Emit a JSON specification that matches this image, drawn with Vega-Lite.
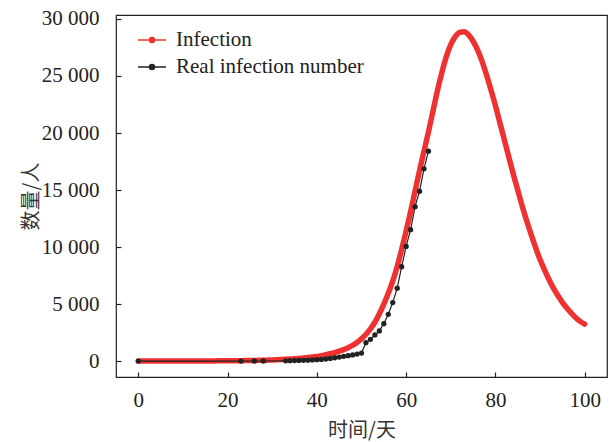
{
  "$schema": "https://vega.github.io/schema/vega-lite/v6.json",
  "width": 491,
  "height": 362,
  "autosize": "none",
  "padding": {"left": 116, "top": 15, "right": 4, "bottom": 65},
  "background": "white",
  "config": {
    "view": {"stroke": "#222222", "strokeWidth": 1.2},
    "font": "Liberation Serif",
    "style": {"guide-label": {"font": "Liberation Serif"}},
    "axis": {
      "grid": false,
      "domain": false,
      "tickSize": -5,
      "tickColor": "#222222",
      "tickWidth": 1.2,
      "labelFont": "Liberation Serif",
      "labelFontSize": 21,
      "labelColor": "#222222",
      "titleFont": "Noto Sans CJK SC",
      "titleFontSize": 20,
      "titleFontWeight": "normal",
      "titleColor": "#333333"
    }
  },
  "data": {
    "values": [
      {"day": 0, "value": 1, "series": "Infection"},
      {"day": 1, "value": 1, "series": "Infection"},
      {"day": 2, "value": 1, "series": "Infection"},
      {"day": 3, "value": 1, "series": "Infection"},
      {"day": 4, "value": 2, "series": "Infection"},
      {"day": 5, "value": 2, "series": "Infection"},
      {"day": 6, "value": 2, "series": "Infection"},
      {"day": 7, "value": 3, "series": "Infection"},
      {"day": 8, "value": 3, "series": "Infection"},
      {"day": 9, "value": 4, "series": "Infection"},
      {"day": 10, "value": 4, "series": "Infection"},
      {"day": 11, "value": 5, "series": "Infection"},
      {"day": 12, "value": 6, "series": "Infection"},
      {"day": 13, "value": 7, "series": "Infection"},
      {"day": 14, "value": 8, "series": "Infection"},
      {"day": 15, "value": 10, "series": "Infection"},
      {"day": 16, "value": 11, "series": "Infection"},
      {"day": 17, "value": 13, "series": "Infection"},
      {"day": 18, "value": 15, "series": "Infection"},
      {"day": 19, "value": 18, "series": "Infection"},
      {"day": 20, "value": 21, "series": "Infection"},
      {"day": 21, "value": 24, "series": "Infection"},
      {"day": 22, "value": 28, "series": "Infection"},
      {"day": 23, "value": 33, "series": "Infection"},
      {"day": 24, "value": 38, "series": "Infection"},
      {"day": 25, "value": 45, "series": "Infection"},
      {"day": 26, "value": 52, "series": "Infection"},
      {"day": 27, "value": 60, "series": "Infection"},
      {"day": 28, "value": 70, "series": "Infection"},
      {"day": 29, "value": 82, "series": "Infection"},
      {"day": 30, "value": 95, "series": "Infection"},
      {"day": 31, "value": 110, "series": "Infection"},
      {"day": 32, "value": 128, "series": "Infection"},
      {"day": 33, "value": 148, "series": "Infection"},
      {"day": 34, "value": 172, "series": "Infection"},
      {"day": 35, "value": 200, "series": "Infection"},
      {"day": 36, "value": 230, "series": "Infection"},
      {"day": 37, "value": 265, "series": "Infection"},
      {"day": 38, "value": 305, "series": "Infection"},
      {"day": 39, "value": 355, "series": "Infection"},
      {"day": 40, "value": 410, "series": "Infection"},
      {"day": 41, "value": 475, "series": "Infection"},
      {"day": 42, "value": 550, "series": "Infection"},
      {"day": 43, "value": 640, "series": "Infection"},
      {"day": 44, "value": 740, "series": "Infection"},
      {"day": 45, "value": 860, "series": "Infection"},
      {"day": 46, "value": 1000, "series": "Infection"},
      {"day": 47, "value": 1170, "series": "Infection"},
      {"day": 48, "value": 1370, "series": "Infection"},
      {"day": 49, "value": 1620, "series": "Infection"},
      {"day": 50, "value": 1950, "series": "Infection"},
      {"day": 51, "value": 2350, "series": "Infection"},
      {"day": 52, "value": 2830, "series": "Infection"},
      {"day": 53, "value": 3400, "series": "Infection"},
      {"day": 54, "value": 4150, "series": "Infection"},
      {"day": 55, "value": 5000, "series": "Infection"},
      {"day": 56, "value": 5950, "series": "Infection"},
      {"day": 57, "value": 7000, "series": "Infection"},
      {"day": 58, "value": 8300, "series": "Infection"},
      {"day": 59, "value": 9800, "series": "Infection"},
      {"day": 60, "value": 11400, "series": "Infection"},
      {"day": 61, "value": 13100, "series": "Infection"},
      {"day": 62, "value": 14900, "series": "Infection"},
      {"day": 63, "value": 16700, "series": "Infection"},
      {"day": 64, "value": 18400, "series": "Infection"},
      {"day": 65, "value": 20100, "series": "Infection"},
      {"day": 66, "value": 21900, "series": "Infection"},
      {"day": 67, "value": 23700, "series": "Infection"},
      {"day": 68, "value": 25300, "series": "Infection"},
      {"day": 69, "value": 26700, "series": "Infection"},
      {"day": 70, "value": 27750, "series": "Infection"},
      {"day": 71, "value": 28450, "series": "Infection"},
      {"day": 72, "value": 28830, "series": "Infection"},
      {"day": 73, "value": 28880, "series": "Infection"},
      {"day": 74, "value": 28600, "series": "Infection"},
      {"day": 75, "value": 28050, "series": "Infection"},
      {"day": 76, "value": 27300, "series": "Infection"},
      {"day": 77, "value": 26300, "series": "Infection"},
      {"day": 78, "value": 25100, "series": "Infection"},
      {"day": 79, "value": 23800, "series": "Infection"},
      {"day": 80, "value": 22400, "series": "Infection"},
      {"day": 81, "value": 20900, "series": "Infection"},
      {"day": 82, "value": 19400, "series": "Infection"},
      {"day": 83, "value": 17900, "series": "Infection"},
      {"day": 84, "value": 16400, "series": "Infection"},
      {"day": 85, "value": 15000, "series": "Infection"},
      {"day": 86, "value": 13600, "series": "Infection"},
      {"day": 87, "value": 12300, "series": "Infection"},
      {"day": 88, "value": 11100, "series": "Infection"},
      {"day": 89, "value": 9950, "series": "Infection"},
      {"day": 90, "value": 8900, "series": "Infection"},
      {"day": 91, "value": 8000, "series": "Infection"},
      {"day": 92, "value": 7150, "series": "Infection"},
      {"day": 93, "value": 6400, "series": "Infection"},
      {"day": 94, "value": 5750, "series": "Infection"},
      {"day": 95, "value": 5150, "series": "Infection"},
      {"day": 96, "value": 4650, "series": "Infection"},
      {"day": 97, "value": 4200, "series": "Infection"},
      {"day": 98, "value": 3800, "series": "Infection"},
      {"day": 99, "value": 3480, "series": "Infection"},
      {"day": 100, "value": 3230, "series": "Infection"},
      {"day": 0, "value": 1, "series": "Real infection number"},
      {"day": 23, "value": 1, "series": "Real infection number"},
      {"day": 26, "value": 2, "series": "Real infection number"},
      {"day": 28, "value": 3, "series": "Real infection number"},
      {"day": 33, "value": 20, "series": "Real infection number"},
      {"day": 34, "value": 30, "series": "Real infection number"},
      {"day": 35, "value": 40, "series": "Real infection number"},
      {"day": 36, "value": 50, "series": "Real infection number"},
      {"day": 37, "value": 60, "series": "Real infection number"},
      {"day": 38, "value": 75, "series": "Real infection number"},
      {"day": 39, "value": 95, "series": "Real infection number"},
      {"day": 40, "value": 115, "series": "Real infection number"},
      {"day": 41, "value": 145, "series": "Real infection number"},
      {"day": 42, "value": 180, "series": "Real infection number"},
      {"day": 43, "value": 230, "series": "Real infection number"},
      {"day": 44, "value": 290, "series": "Real infection number"},
      {"day": 45, "value": 350, "series": "Real infection number"},
      {"day": 46, "value": 410, "series": "Real infection number"},
      {"day": 47, "value": 470, "series": "Real infection number"},
      {"day": 48, "value": 540, "series": "Real infection number"},
      {"day": 49, "value": 610, "series": "Real infection number"},
      {"day": 50, "value": 700, "series": "Real infection number"},
      {"day": 51, "value": 1610, "series": "Real infection number"},
      {"day": 52, "value": 1900, "series": "Real infection number"},
      {"day": 53, "value": 2290, "series": "Real infection number"},
      {"day": 54, "value": 2640, "series": "Real infection number"},
      {"day": 55, "value": 3280, "series": "Real infection number"},
      {"day": 56, "value": 4100, "series": "Real infection number"},
      {"day": 57, "value": 5130, "series": "Real infection number"},
      {"day": 58, "value": 6390, "series": "Real infection number"},
      {"day": 59, "value": 8270, "series": "Real infection number"},
      {"day": 60, "value": 10050, "series": "Real infection number"},
      {"day": 61, "value": 11520, "series": "Real infection number"},
      {"day": 62, "value": 13540, "series": "Real infection number"},
      {"day": 63, "value": 14890, "series": "Real infection number"},
      {"day": 64, "value": 16860, "series": "Real infection number"},
      {"day": 65, "value": 18410, "series": "Real infection number"}
    ]
  },
  "encoding": {
    "x": {
      "field": "day",
      "type": "quantitative",
      "scale": {"domain": [-5, 105], "nice": false, "zero": false},
      "axis": {
        "values": [0, 20, 40, 60, 80, 100],
        "title": "时间/天",
        "labelPadding": 17,
        "titlePadding": 10
      }
    },
    "y": {
      "field": "value",
      "type": "quantitative",
      "scale": {"domain": [-1400, 30350], "nice": false, "zero": false},
      "axis": {
        "values": [0, 5000, 10000, 15000, 20000, 25000, 30000],
        "labelExpr": "replace(format(datum.value, ','), ',', ' ')",
        "title": "数量/人",
        "labelPadding": 22,
        "titlePadding": 0
      }
    }
  },
  "layer": [
    {
      "transform": [{"filter": "datum.series === 'Infection'"}],
      "mark": {"type": "line", "strokeWidth": 5.5, "strokeCap": "round", "interpolate": "monotone"},
      "encoding": {
        "color": {
          "field": "series",
          "type": "nominal",
          "scale": {"domain": ["Infection", "Real infection number"], "range": ["#ef3131", "#222222"]},
          "legend": {
            "title": null,
            "orient": "none",
            "legendX": 21,
            "legendY": 10,
            "padding": 0,
            "rowPadding": 2,
            "symbolType": "M-1,0H1M0.18,0A0.18,0.18,0,1,1,-0.18,0A0.18,0.18,0,1,1,0.18,0Z",
            "symbolSize": 784,
            "symbolStrokeWidth": 1.5,
            "labelFont": "Liberation Serif",
            "labelFontSize": 21,
            "labelColor": "#222222",
            "labelOffset": 9,
            "labelLimit": 400,
            "encode": {"symbols": {"update": {"fill": {"scale": "color", "field": "value"}}}}
          }
        }
      }
    },
    {
      "transform": [{"filter": "datum.series === 'Real infection number'"}],
      "mark": {"type": "line", "strokeWidth": 1.2},
      "encoding": {
        "color": {"field": "series", "type": "nominal"}
      }
    },
    {
      "transform": [{"filter": "datum.series === 'Real infection number'"}],
      "mark": {"type": "point", "filled": true, "size": 28, "opacity": 1},
      "encoding": {
        "color": {"field": "series", "type": "nominal"}
      }
    }
  ]
}
